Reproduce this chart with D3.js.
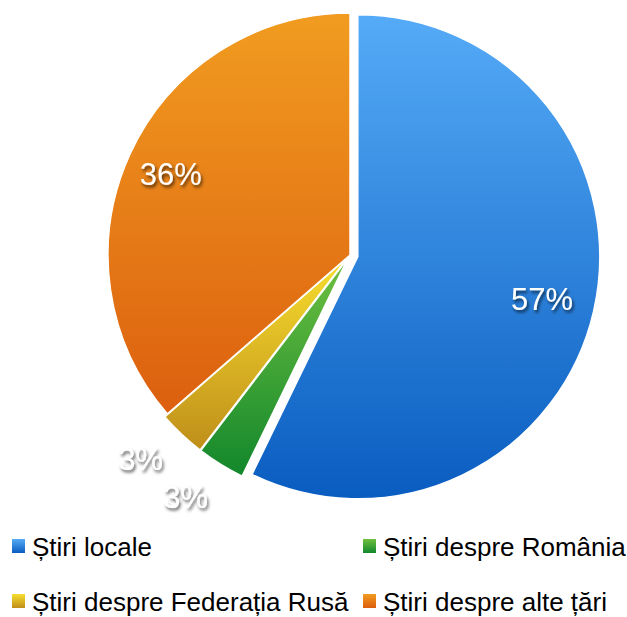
<!DOCTYPE html>
<html>
<head>
<meta charset="utf-8">
<script src="https://cdn.jsdelivr.net/npm/d3@7"></script>
<style>
  body { margin: 0; background: #fff; }
  svg { display: block; font-family: Arial, "Liberation Sans", sans-serif; }
</style>
</head>
<body>
<div id="chart"></div>
<script>
const categories = ["Știri locale", "Știri despre România", "Știri despre Federația Rusă", "Știri despre alte țări"];
const values = [57.2, 3.2, 3.2, 36.4];
const topColors = ["#55abf7", "#6fc040", "#f7de2e", "#f19c20"];
const bottomColors = ["#0a5dc0", "#12872c", "#bf8e1a", "#dc5f0f"];
const explode = [8, 4, 4, 0];

const width = 627, height = 617;
const cx = 350, cy = 255, radius = 242;

const svg = d3.select("#chart")
    .append("svg")
    .attr("width", width)
    .attr("height", height);

const defs = svg.append("defs");

categories.forEach((c, i) => {
    const g = defs.append("linearGradient")
        .attr("id", "grad-" + i)
        .attr("x1", 0).attr("y1", 0)
        .attr("x2", 0).attr("y2", 1);
    g.append("stop").attr("offset", "0%").attr("stop-color", topColors[i]);
    g.append("stop").attr("offset", "100%").attr("stop-color", bottomColors[i]);
});

const shadow = defs.append("filter")
    .attr("id", "shadow")
    .attr("x", "-30%").attr("y", "-30%")
    .attr("width", "160%").attr("height", "160%");
shadow.append("feDropShadow")
    .attr("dx", 1.5).attr("dy", 2.5)
    .attr("stdDeviation", 1.6)
    .attr("flood-color", "#000")
    .attr("flood-opacity", 0.65);

const pie = d3.pie().sort(null).value((d) => d);
const arcs = pie(values);

const arc = d3.arc().innerRadius(0).outerRadius(radius);

const pieGroup = svg.append("g")
    .attr("transform", `translate(${cx}, ${cy})`);

pieGroup.selectAll(".slice")
    .data(arcs)
    .enter()
    .append("path")
    .attr("class", "slice")
    .attr("transform", (d, i) => {
        const a = (d.startAngle + d.endAngle) / 2;
        return `translate(${Math.sin(a) * explode[i]}, ${-Math.cos(a) * explode[i]})`;
    })
    .attr("d", arc)
    .attr("fill", (d, i) => `url(#grad-${i})`)
    .attr("stroke", "#fff")
    .attr("stroke-width", 1.5)
    .attr("stroke-linejoin", "round");

// labels: big slices inside, small ones outside (pushed a bit clockwise)
const isSmall = (d) => (d.endAngle - d.startAngle) < 0.5;
const labelRadius = (d) => isSmall(d) ? 292 : 197;
const labelAngle = (d) => (d.startAngle + d.endAngle) / 2 + (isSmall(d) ? 0.045 : 0);

pieGroup.selectAll(".label")
    .data(arcs)
    .enter()
    .append("text")
    .attr("class", "label")
    .attr("x", (d) => Math.sin(labelAngle(d)) * labelRadius(d))
    .attr("y", (d) => -Math.cos(labelAngle(d)) * labelRadius(d))
    .attr("dy", "0.36em")
    .attr("text-anchor", "middle")
    .attr("font-size", 31)
    .attr("fill", "#fff")
    .attr("filter", "url(#shadow)")
    .text((d) => Math.round(d.data) + "%");

// legend, 2 columns
const legend = svg.append("g").attr("class", "legend");

const legendItem = legend.selectAll(".legend-item")
    .data(categories)
    .enter()
    .append("g")
    .attr("class", "legend-item")
    .attr("transform", (d, i) => `translate(${i % 2 === 0 ? 12 : 363}, ${i < 2 ? 539 : 594})`);

legendItem.append("rect")
    .attr("width", 13)
    .attr("height", 14)
    .attr("fill", (d, i) => `url(#grad-${i})`);

legendItem.append("text")
    .attr("x", 20)
    .attr("y", 17)
    .attr("font-size", 26)
    .attr("fill", "#000")
    .text((d) => d);
</script>
</body>
</html>
